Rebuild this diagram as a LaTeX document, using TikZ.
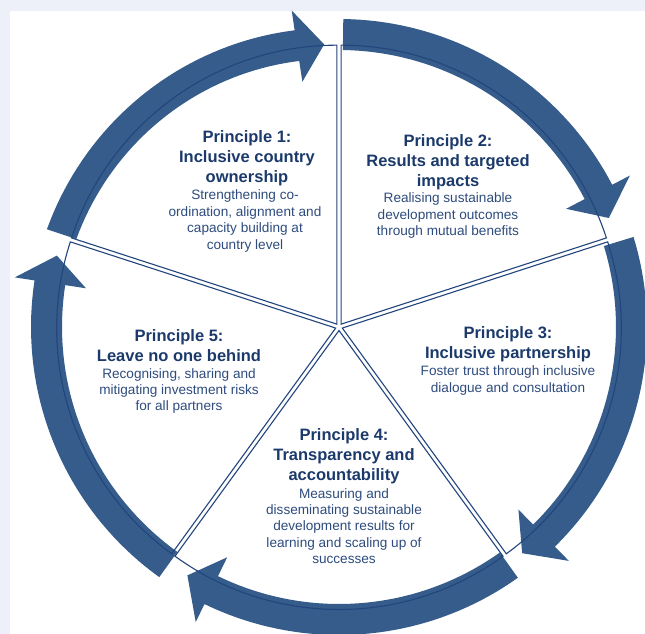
\documentclass[tikz,border=0pt]{standalone}
\usepackage{fontspec}
\setmainfont{Liberation Sans}
\definecolor{arrowblue}{HTML}{355C8A}
\definecolor{lineblue}{HTML}{23457D}
\definecolor{titleblue}{HTML}{1B3A6B}
\definecolor{textblue}{HTML}{2E4C7E}
\definecolor{pagegrey}{HTML}{EDF0F8}
\tikzset{
every picture/.style={x=1pt, y=1pt},
%%%%%%%%%%  Node styles
title/.style={align=center, inner sep=0pt, text=titleblue,
              font=\fontsize{16.5}{20}\selectfont\bfseries},
blurb/.style={align=center, inner sep=0pt, text=textblue,
              font=\fontsize{13.6}{16.4}\selectfont},
%%%% different line styles:
sector/.style={draw=lineblue, line width=1.1pt, line join=miter},
cyclearrow/.style={fill=arrowblue, draw=none},
}
%%%%%%% Curved arrow: tail angle, tip angle, drift of the band towards the head
\newcommand{\cycarrow}[3]{%
  \pgfmathsetmacro{\hb}{#2+5.5}%
  \pgfmathsetmacro{\hin}{256+#3}%
  \pgfmathsetmacro{\hout}{328+#3}%
  \pgfmathsetmacro{\tipr}{291+#3}%
  \fill[cyclearrow]
       plot[domain=#1:\hb, samples=40] (\x:{277+#3*(\x-#1)/(\hb-#1)})
       -- (\hb:\hin) -- (#2:\tipr) -- (\hb:\hout)
       -- plot[domain=\hb:#1, samples=40] (\x:{308+#3*(\x-#1)/(\hb-#1)})
       -- cycle;}
%%%%%%% Pie slice, pulled out a little: start angle, end angle
\newcommand{\slice}[2]{%
  \pgfmathsetmacro{\bis}{(#1+#2)/2}%
  \draw[sector, shift={(\bis:3.5)}] (0,0) -- (#1:279)
       arc[start angle=#1, end angle=#2, radius=279] -- cycle;}

\begin{document}
\begin{tikzpicture}
\useasboundingbox (-339,-307) rectangle (306,327);
\fill[pagegrey] (-339,-307) rectangle (306,327);
\fill[white] (-329,-307) rectangle (306,316);

%%%% arrows round the cycle
\cycarrow{161.5}{93}{-8}
\cycarrow{89.2}{22}{0}
\cycarrow{17}{-51}{0}
\cycarrow{-54.5}{-121.4}{0}
\cycarrow{-125.7}{-194.2}{0}

%%%% the five slices
\slice{90}{162}
\slice{18}{90}
\slice{-54}{18}
\slice{-126}{-54}
\slice{162}{234}

%%%% texts
\node[title] (p1title) at (-92,169) {Principle 1:\\Inclusive country\\ownership};
\node[blurb] (p1text) at (-94,106) {Strengthening co-\\ordination, alignment and\\capacity building at\\country level};

\node[title] (p2title) at (109,165) {Principle 2:\\Results and targeted\\impacts};
\node[blurb] (p2text) at (109,111.5) {Realising sustainable\\development outcomes\\through mutual benefits};

\node[title] (p3title) at (169,-17) {Principle 3:\\Inclusive partnership};
\node[blurb] (p3text) at (169,-53.5) {Foster trust through inclusive\\dialogue and consultation};

\node[title] (p4title) at (5,-129) {Principle 4:\\Transparency and\\accountability};
\node[blurb] (p4text) at (5,-199) {Measuring and\\disseminating sustainable\\development results for\\learning and scaling up of\\successes};

\node[title] (p5title) at (-160,-19) {Principle 5:\\Leave no one behind};
\node[blurb] (p5text) at (-160,-64) {Recognising, sharing and\\mitigating investment risks\\for all partners};
\end{tikzpicture}
\end{document}
